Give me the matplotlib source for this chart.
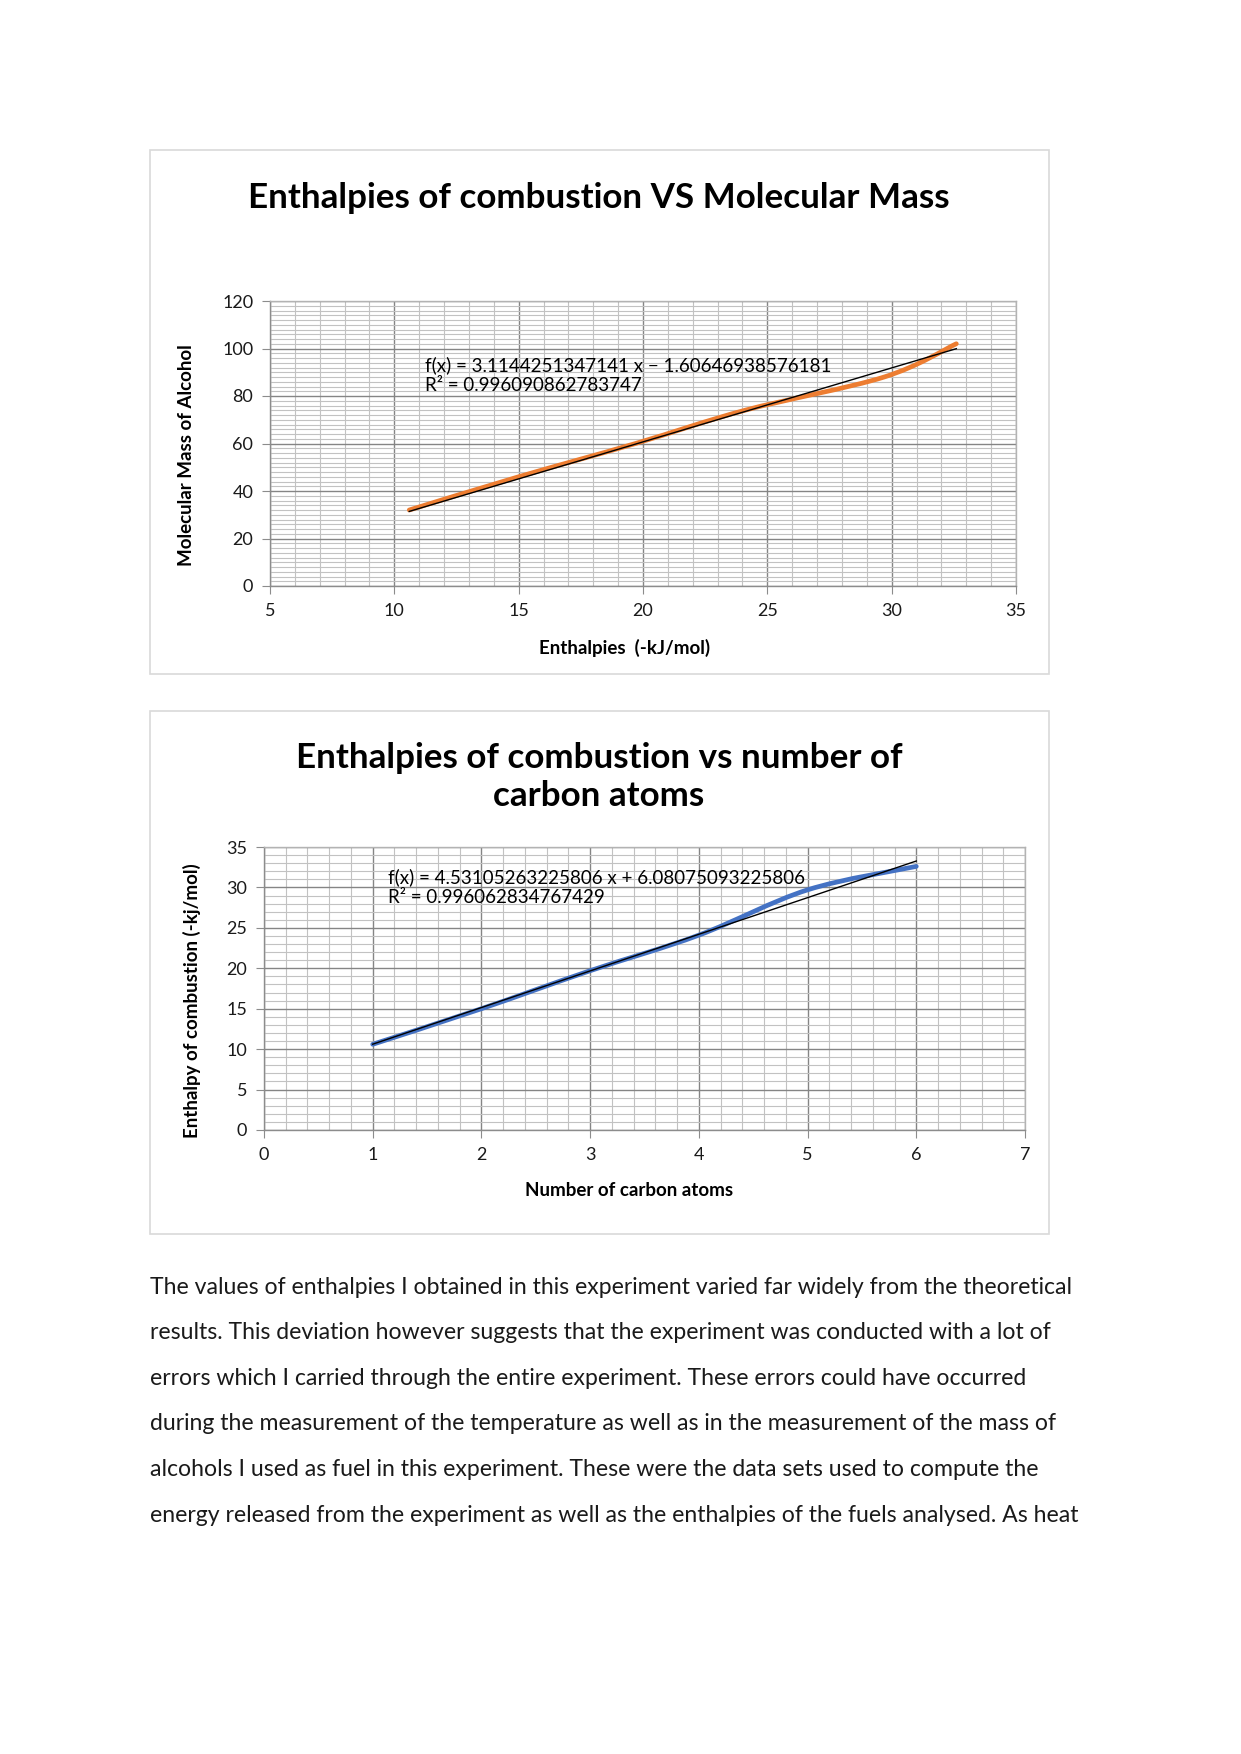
import matplotlib
matplotlib.use("Agg")
import matplotlib.pyplot as plt
from matplotlib.path import Path
from matplotlib.patches import PathPatch, Rectangle
from matplotlib.ticker import MultipleLocator
import numpy as np

plt.rcParams['font.family'] = ['Lato', 'DejaVu Sans']

# ---------------- data ----------------
carbon_atoms = [1, 2, 3, 4, 5, 6]
enthalpies = [10.6, 15.0, 19.7, 24.1, 29.7, 32.6]      # -kJ/mol
molecular_mass = [32, 46, 60, 74, 88, 102]

fit1_slope, fit1_icpt = 3.1144251347141, -1.60646938576181
fit2_slope, fit2_icpt = 4.53105263225806, 6.08075093225806
fit1_label = "f(x) = 3.1144251347141 x \u2212 1.60646938576181\nR\u00b2 = 0.996090862783747"
fit2_label = "f(x) = 4.53105263225806 x + 6.08075093225806\nR\u00b2 = 0.996062834767429"

body_lines = [
    "The values of enthalpies I obtained in this experiment varied far widely from the theoretical",
    "results. This deviation however suggests that the experiment was conducted with a lot of",
    "errors which I carried through the entire experiment. These errors could have occurred",
    "during the measurement of the temperature as well as in the measurement of the mass of",
    "alcohols I used as fuel in this experiment. These were the data sets used to compute the",
    "energy released from the experiment as well as the enthalpies of the fuels analysed. As heat",
]

# ---------------- layout helpers ----------------
W, H = 1241, 1754
fig = plt.figure(figsize=(W / 100, H / 100), dpi=100, facecolor='white')


def rect(l, t, r, b):
    return [l / W, 1 - b / H, (r - l) / W, (b - t) / H]


def ftext(x, y, s, **kw):
    fig.text(x / W, 1 - y / H, s, **kw)


def smooth_path(xs, ys):
    # catmull-rom through the points, drawn as cubic bezier segments
    xs = np.asarray(xs, float)
    ys = np.asarray(ys, float)
    p = np.column_stack([xs, ys])
    verts = [p[0]]
    codes = [Path.MOVETO]
    n = len(p)
    for i in range(n - 1):
        p0 = p[i - 1] if i > 0 else p[i]
        p1, p2 = p[i], p[i + 1]
        p3 = p[i + 2] if i + 2 < n else p[i + 1]
        c1 = p1 + (p2 - p0) / 6
        c2 = p2 - (p3 - p1) / 6
        verts += [c1, c2, p2]
        codes += [Path.CURVE4] * 3
    return Path(verts, codes)


def style_axes(ax, xmaj, xmin, ymaj, ymin):
    ax.xaxis.set_major_locator(MultipleLocator(xmaj))
    ax.xaxis.set_minor_locator(MultipleLocator(xmin))
    ax.yaxis.set_major_locator(MultipleLocator(ymaj))
    ax.yaxis.set_minor_locator(MultipleLocator(ymin))
    ax.grid(which='major', color='#858585', linewidth=1.0)
    ax.grid(which='minor', color='#c2c2c2', linewidth=0.8)
    ax.set_axisbelow(True)
    for s in ax.spines.values():
        s.set_color('#b3b3b3')
        s.set_linewidth(1.0)
    ax.spines['left'].set_color('#8c8c8c')
    ax.spines['bottom'].set_color('#8c8c8c')
    ax.tick_params(which='major', direction='out', length=6, color='#8c8c8c',
                   labelsize=13, labelcolor='#1a1a1a', pad=6)
    ax.tick_params(which='minor', length=0)


# ---------------- chart 1 ----------------
fig.patches.append(Rectangle((150 / W, 1 - 674 / H), 899 / W, 524 / H,
                             transform=fig.transFigure, fill=False,
                             edgecolor='#d9d9d9', linewidth=1.2))
ax1 = fig.add_axes(rect(270, 301, 1016, 586))
ax1.set_xlim(5, 35)
ax1.set_ylim(0, 120)
style_axes(ax1, 5, 1, 20, 2)
ax1.add_patch(PathPatch(smooth_path(enthalpies, molecular_mass), fill=False,
                        edgecolor='#ed7d31', linewidth=3.4, capstyle='round'))
tx = np.array([min(enthalpies), max(enthalpies)])
ax1.plot(tx, fit1_slope * tx + fit1_icpt, color='black', linewidth=1.0)
ftext(599, 198, "Enthalpies of combustion VS Molecular Mass", ha='center', va='center',
      fontsize=25.2, fontweight='bold')
ftext(425, 375, fit1_label, ha='left', va='center', fontsize=13.5, linespacing=1.2)
ftext(625, 648, "Enthalpies  (-kJ/mol)", ha='center', va='center', fontsize=13.5,
      fontweight='bold')
ftext(187, 455, "Molecular Mass of Alcohol", ha='center', va='center', fontsize=13.5,
      fontweight='bold', rotation=90)

# ---------------- chart 2 ----------------
fig.patches.append(Rectangle((150 / W, 1 - 1234 / H), 899 / W, 523 / H,
                             transform=fig.transFigure, fill=False,
                             edgecolor='#d9d9d9', linewidth=1.2))
ax2 = fig.add_axes(rect(264, 847, 1025, 1130))
ax2.set_xlim(0, 7)
ax2.set_ylim(0, 35)
style_axes(ax2, 1, 0.2, 5, 1)
ax2.add_patch(PathPatch(smooth_path(carbon_atoms, enthalpies), fill=False,
                        edgecolor='#4472c4', linewidth=3.4, capstyle='round'))
tx2 = np.array([min(carbon_atoms), max(carbon_atoms)])
ax2.plot(tx2, fit2_slope * tx2 + fit2_icpt, color='black', linewidth=1.0)
ftext(599, 777, "Enthalpies of combustion vs number of\ncarbon atoms", ha='center',
      va='center', fontsize=25.2, fontweight='bold', linespacing=1.25)
ftext(388, 887, fit2_label, ha='left', va='center', fontsize=13.5, linespacing=1.2)
ftext(629, 1191, "Number of carbon atoms", ha='center', va='center', fontsize=13.5,
      fontweight='bold')
ftext(192, 1001, "Enthalpy of combustion (-kj/mol)", ha='center', va='center',
      fontsize=13.5, fontweight='bold', rotation=90)

# ---------------- body text ----------------
for i, line in enumerate(body_lines):
    ftext(150, 1287 + i * 45.6, line, ha='left', va='center', fontsize=16.6, color='#1a1a1a')

fig.savefig("out.png", dpi=100, facecolor='white')
